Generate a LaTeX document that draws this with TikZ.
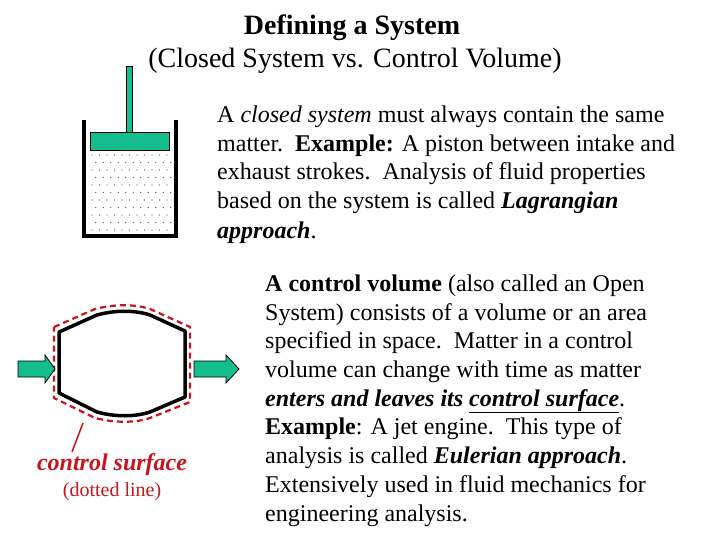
\documentclass[tikz,border=0pt]{standalone}
\usepackage{fontspec}
\setmainfont{Liberation Serif}
\definecolor{tq}{RGB}{20,190,140}
\definecolor{dred}{RGB}{200,20,30}
\begin{document}
\begin{tikzpicture}[x=1pt,y=-1pt,
  ln/.style={anchor=base west,inner sep=0pt,font=\fontsize{24}{28}\selectfont},
  ttl/.style={anchor=base,inner sep=0pt,font=\fontsize{28}{32}\selectfont},
  tqarrow/.style={fill=tq,draw=black,line width=0.8pt}]
\useasboundingbox (0,0) rectangle (720,540);
\fill[white] (0,0) rectangle (720,540);
\node[ttl,font=\fontsize{28}{32}\selectfont\bfseries] (t1) at (352,35) {Defining a System};
\node[ttl] (t2) at (355,68) {(Closed System vs. Control Volume)};
% piston
\foreach \i in {0,...,10} \foreach \j in {0,...,10}
  \fill[black!70] ({92+\i*7.5+mod(\j,2)*3.7},{155+\j*7.5}) circle (0.6);
\draw[line width=3.5pt] (84,120) -- (84,236) -- (176,236) -- (176,120);
\draw[fill=tq,line width=0.8pt] (126,66) rectangle (132,132);
\draw[fill=tq,line width=0.8pt] (90,132) rectangle (169,150);
% closed system text
\node[ln] (a1) at (217,123) {A \textit{closed system} must always contain the same};
\node[ln] (a2) at (217,152) {matter.\ \ \textbf{Example:} A piston between intake and};
\node[ln] (a3) at (217,180) {exhaust strokes.\ \ Analysis of fluid properties};
\node[ln] (a4) at (217,209) {based on the system is called \textbf{\textit{Lagrangian}}};
\node[ln] (a5) at (217,238) {\textbf{\textit{approach}}.};
% control volume
\draw[dred,line width=2.2pt,dash pattern=on 6pt off 4pt,line join=round] (54,327) -- (95,309) .. controls (115,304) and (135,304) .. (150,309) -- (190,327) -- (190,402) -- (150,418) .. controls (135,423) and (115,423) .. (95,418) -- (54,398) -- cycle;
\draw[line width=3.5pt,line join=round] (59,332) -- (97,315) .. controls (115,310) and (135,310) .. (150,315) -- (185,331) -- (185,397) -- (150,412) .. controls (135,417) and (115,417) .. (97,412) -- (59,393) -- cycle;
\draw[tqarrow] (18,361) -- (45,361) -- (45,355) -- (55,369) -- (45,383) -- (45,377) -- (18,377) -- cycle;
\draw[tqarrow] (194,361) -- (226,361) -- (226,355) -- (239,369) -- (226,383) -- (226,377) -- (194,377) -- cycle;
\coordinate (pa) at (72,452);
\coordinate (pb) at (83,423);
\draw[dred,line width=1.5pt] (pa) -- (pb);
\node[anchor=base,inner sep=0pt,text=dred,font=\fontsize{24}{28}\selectfont\bfseries\itshape] (cs) at (112,470) {control surface};
\node[anchor=base,inner sep=0pt,text=dred,font=\fontsize{20}{24}\selectfont] (dl) at (112,496) {(dotted line)};
% control volume text
\node[ln] (b1) at (265,291) {\textbf{A control volume} (also called an Open};
\node[ln] (b2) at (265,320) {System) consists of a volume or an area};
\node[ln] (b3) at (265,348) {specified in space.\ \ Matter in a control};
\node[ln] (b4) at (265,377) {volume can change with time as matter};
\node[ln] (b5) at (265,406) {\textbf{\textit{enters and leaves its \underline{control surface}}}.};
\node[ln] (b6) at (265,434) {\textbf{Example}: A jet engine.\ \ This type of};
\node[ln] (b7) at (265,463) {analysis is called \textbf{\textit{Eulerian approach}}.};
\node[ln] (b8) at (265,492) {Extensively used in fluid mechanics for};
\node[ln] (b9) at (265,521) {engineering analysis.};
\end{tikzpicture}
\end{document}
